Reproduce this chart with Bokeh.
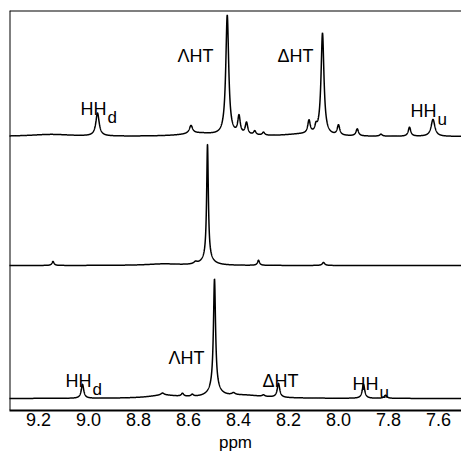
import numpy as np
from bokeh.plotting import figure
from bokeh.models import Range1d, FixedTicker, PrintfTickFormatter, Span
from bokeh.core.properties import value
from bokeh.embed import file_html
from bokeh.resources import INLINE

# ---- data ----
tick_values = [9.2, 9.0, 8.8, 8.6, 8.4, 8.2, 8.0, 7.8, 7.6]

# top spectrum: peak centres (ppm), heights, half-widths (ppm)
top_offset = 274
top_centers = [8.964, 8.59, 8.56, 8.445, 8.398, 8.368, 8.335, 8.30, 8.15, 8.118, 8.09, 8.064, 8.00, 7.925, 7.83, 7.716, 7.622, 9.15]
top_heights = [23, 8, 3, 120, 18, 12, 4, 3, 2, 13, 6, 102, 10, 7, 2, 9, 17, 2]
top_widths = [0.008, 0.008, 0.08, 0.007, 0.006, 0.006, 0.006, 0.006, 0.08, 0.006, 0.005, 0.007, 0.006, 0.006, 0.006, 0.006, 0.009, 0.1]

# middle spectrum
mid_offset = 145
mid_centers = [9.142, 8.572, 8.524, 8.524, 8.32, 8.06, 8.70]
mid_heights = [4, 2, 115, 6, 5, 3, 1.5]
mid_widths = [0.005, 0.008, 0.004, 0.025, 0.005, 0.006, 0.08]

# bottom spectrum
bot_offset = 12
bot_centers = [9.024, 8.70, 8.704, 8.624, 8.585, 8.496, 8.496, 8.42, 8.38, 8.30, 8.24, 7.90, 7.812]
bot_heights = [14, 3, 2, 3, 2, 110, 8, 2, 3, 1.5, 14, 14, 3]
bot_widths = [0.006, 0.07, 0.008, 0.006, 0.006, 0.005, 0.025, 0.008, 0.1, 0.006, 0.006, 0.006, 0.007]

# labels: text, ppm of left edge, y of baseline, subscript
top_labels = ["HH", "\u039bHT", "\u0394HT", "HH"]
top_label_x = [9.032, 8.644, 8.244, 7.712]
top_label_y = [302, 355, 355, 300]
top_label_sub = ["d", "", "", "u"]

bot_labels = ["HH", "\u039bHT", "\u0394HT", "HH"]
bot_label_x = [9.092, 8.68, 8.304, 7.944]
bot_label_y = [30, 53, 30, 27]
bot_label_sub = ["d", "", "", "u"]

x_start, x_end = 9.316, 7.508

# ---- build ----
ppm = np.linspace(7.45, 9.35, 4000)


def spectrum(centers, heights, widths, offset):
    y = np.full_like(ppm, float(offset))
    for c, h, w in zip(centers, heights, widths):
        y += h * w * w / ((ppm - c) ** 2 + w * w)
    return y


p = figure(width=461, height=463, output_backend="svg", toolbar_location=None,
           x_range=Range1d(x_start, x_end), y_range=Range1d(0, 400),
           min_border_left=9, min_border_right=0, min_border_top=10, min_border_bottom=53)
p.outline_line_color = None
p.xgrid.visible = False
p.ygrid.visible = False
p.yaxis.visible = False
p.background_fill_color = "white"
p.border_fill_color = "white"

for cs, hs, ws, off in [(top_centers, top_heights, top_widths, top_offset),
                        (mid_centers, mid_heights, mid_widths, mid_offset),
                        (bot_centers, bot_heights, bot_widths, bot_offset)]:
    p.line(ppm, spectrum(cs, hs, ws, off), line_color="black", line_width=1.5)

font = value("Liberation Sans")
for labels, lx, ly, subs in [(top_labels, top_label_x, top_label_y, top_label_sub),
                             (bot_labels, bot_label_x, bot_label_y, bot_label_sub)]:
    p.text(x=lx, y=ly, text=labels, text_font=font, text_font_size="18px",
           text_align="left", text_baseline="alphabetic", text_color="black")
    sx = [x for x, s in zip(lx, subs) if s]
    sy = [y for y, s in zip(ly, subs) if s]
    st = [s for s in subs if s]
    p.text(x=sx, y=sy, text=st, text_font=font, text_font_size="17px",
           text_align="left", text_baseline="alphabetic", text_color="black",
           x_offset=27, y_offset=9)

# frame lines (left and top)
p.add_layout(Span(location=x_start, dimension="height", line_color="black", line_width=2))
p.add_layout(Span(location=400, dimension="width", line_color="black", line_width=2))

ax = p.xaxis[0]
ax.ticker = FixedTicker(ticks=tick_values)
ax.formatter = PrintfTickFormatter(format="%.1f")
ax.axis_label = "ppm"
ax.axis_line_width = 2
ax.axis_line_color = "black"
ax.major_tick_line_color = None
ax.minor_tick_line_color = None
ax.major_tick_out = 0
ax.major_tick_in = 0
ax.major_label_standoff = 2
ax.major_label_text_font = "Liberation Sans"
ax.major_label_text_font_size = "18px"
ax.major_label_text_color = "black"
ax.axis_label_text_font = "Liberation Sans"
ax.axis_label_text_font_size = "17px"
ax.axis_label_text_font_style = "normal"
ax.axis_label_text_color = "black"
ax.axis_label_standoff = 4

open("out.html", "w").write(file_html(p, INLINE))
